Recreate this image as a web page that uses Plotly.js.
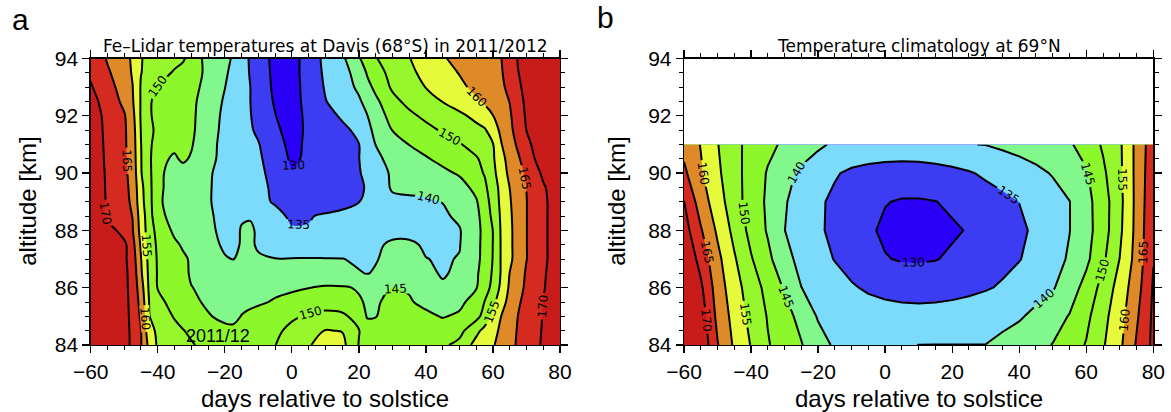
<!DOCTYPE html>
<html><head><meta charset="utf-8">
<script src="https://cdn.plot.ly/plotly-3.0.1.min.js"></script>
<style>html,body{margin:0;padding:0;background:#fff}#chart{width:1171px;height:412px}</style>
</head><body><div id="chart"></div>
<script>
// ---------- Panel a: Fe-Lidar Davis 2011/2012 ----------
const daysA = [-60,-57.5,-55,-52.5,-50,-47.5,-45,-42.5,-40,-35,-32.5,-30,-25,-20,-17.5,-15,-12.5,-10,-5,0,5,10,15,20,22.5,25,30,35,40,45,50,55,57.5,60,62.5,65,67.5,70,72.5,75,77.5,80];
const altA = [84,84.5,85,85.5,86,86.5,87,87.5,88,88.5,89,89.5,90,90.5,91,91.5,92,92.5,93,93.5,94];
const tempA = [
[176.4,175,174,173,172,168.9,165.3,158.5,154.3,152.3,151.4,150.4,148.7,148.2,148.2,148.4,148.7,149,149.9,152.5,154.6,157,156.5,149.8,148.7,148.3,149,149.3,149.5,149.2,151.3,156.7,158.2,159.6,161.6,163.7,165.6,167.3,168.9,170.6,172,173],
[176.2,174.8,173.8,172.8,171.8,168.9,165.1,156.8,154,151.5,150.2,149.2,147.5,146.3,146.2,146.5,147,147.6,149,151.2,153.5,155.2,154.8,150.2,147.5,147,148.2,148.4,147.8,146.7,148.5,153.7,156.4,158.6,160.9,163.2,165.4,167,168.7,170.4,171.8,172.8],
[176,174.6,173.6,172.6,171.6,168.7,164.3,155.1,153.1,149.6,148.5,147.5,145.4,143.8,143.5,145.2,146.2,147,148.3,149.3,150.6,151.2,150.8,148.5,144.6,144.8,147.5,146.8,145.7,144.8,145.5,148.5,151.7,156.3,160.1,162.5,165.1,166.8,168.5,170.2,171.6,172.6],
[175.8,174.4,173.4,172.4,171.4,168.6,163.4,154.7,151.3,148.3,147.2,146.1,144.2,143.3,143.1,143.4,143.8,144.3,145.5,146.5,147.8,148.2,147.8,145.5,144.5,144.4,146.4,145.3,144.2,143.4,144.2,146.5,150.1,153.6,158.1,161.6,164.4,166.4,168.3,170.05,171.4,172.4],
[175.6,174.2,173.2,172.2,171.2,168.4,162.3,154,149.8,147.5,146.3,145.1,144.2,143.6,143.4,143.3,143.3,143.5,143.8,144.3,144.9,145.6,145.5,144.6,143.8,143.9,145.1,144.7,141.8,140.6,142,144.8,147.4,151.7,156.1,160.8,163.5,165.8,167.7,169.7,171.2,172.2],
[175.4,174,173,172,171.1,168.3,160.8,153.7,149.6,147.1,145.9,144.6,143.5,142.5,142,142,142,142,142,141.7,141.4,141,140.8,140.2,139.9,140.3,141.5,142,141,139.6,140.8,144.3,147.1,150.6,155.5,160.1,162.85,165.5,167.5,169.5,171,172],
[175.2,173.8,172.8,171.8,171,167.5,160.2,153.3,149.5,147,145.7,144.5,142.4,140.3,139.9,140.8,141.1,140.6,140.1,140.2,140.3,140.2,140.1,139.5,139.4,139.8,141,141.2,140.1,139.6,140.2,143.8,146.5,150.2,155.5,159.1,162,164.9,166.9,169.1,170.9,172],
[175,173.5,172.5,171.6,171.2,166.6,159.3,152.7,149.2,145.8,144.5,143.4,141.4,139.4,138.8,140.4,140.8,139.4,138.2,137,136.6,136.8,137.4,138,138.4,139,141,140.8,139.4,139.5,139.8,143.7,146.4,150.1,155.5,159.1,162,164.9,166.9,169.1,170.9,172],
[174.8,172.4,171.1,170.1,167.7,165.3,158.3,152.3,148.4,144.1,143.3,142.4,140.6,139.3,139.1,140.2,140.8,139.3,137.4,135.4,135.3,136,136.6,137.1,137.5,137.8,138.1,138.5,138.8,139.2,139.7,143.6,146.3,150.1,155.6,159.1,162,164.9,166.9,169.1,170.9,172],
[174.5,171.3,169.3,167.9,166.5,164.9,157.7,152.1,146.2,143.6,142.8,142,140.4,139.2,139.4,139.7,139.6,138.2,136.2,134.3,134.7,135.6,136.2,136.6,136.9,137.2,137.8,138.3,138.8,139.3,140.8,144,146.6,151.3,155.8,159.3,162.1,164.9,166.9,169.1,170.9,172],
[174.2,171.6,169.5,167.9,166.4,164.2,156.7,151.7,145.6,143.5,142.7,141.9,140.3,138.8,138.2,137.4,136.8,136.1,134.6,132,132,132.5,133.5,134.9,135.9,138,139.4,139.5,139.6,140.1,142.5,144.6,147.5,152.2,156.1,159.6,162.3,164.9,166.9,169.1,170.9,172],
[174,171.5,169.4,167.8,166.3,163.7,156.3,151.5,145.8,143.5,142.7,141.9,140.3,138.9,138.2,137.4,136.7,136,134.3,131.2,131.6,132.3,133.2,134.3,135.4,138.4,140.3,140.6,140.8,141.5,143.3,146.2,149,152.7,156.5,160.05,162.5,165.05,167.3,169.5,171.2,172.1],
[173.8,171.4,169.3,167.7,166.1,163.2,155.3,151.2,145.9,143.5,143.5,141.9,140.4,138.9,138.1,137.4,136.6,135.9,133.7,130.3,131.1,132.3,133.5,134.7,136,138,140.6,141.7,142.9,144,145.5,148.6,150.3,153.7,157.5,161.2,163.4,165.8,168.5,170.8,171.7,172.4],
[173.5,171.2,169.1,167.6,166,162.75,155.2,151,146,144.5,145.6,144.6,141.1,138.85,138,137.3,136.5,135.75,132.6,129.3,130.7,132.1,133.5,134.9,136.75,139.1,141.25,142.9,144.6,146.2,147.9,149.5,151.4,154.3,158.6,161.7,164.4,167.2,170.05,171.2,172,172.7],
[173.2,171,169,167.5,165.86,162.4,155.1,150.8,148,145.8,145.5,145.4,141.4,138.8,137.9,137,136.1,135.3,131.3,129.1,130.6,132.1,133.5,134.9,137.55,140.05,142.6,145.1,146.6,148.1,149.6,152,153.4,154.8,159.8,162.9,165.8,169,170.8,171.7,172.4,173],
[172.8,170.8,168.9,167.4,165.8,162.1,154.8,150.7,149.3,147.5,146.6,145.8,142.1,138.8,137.7,136.6,135.6,134.1,130.5,129,130.5,132.2,133.8,136.2,138.8,141.1,145.1,146.9,148.7,150.5,152.1,153.7,154.5,157.2,161.3,163.9,166.9,170.05,171.2,172.1,172.8,173.4],
[172.3,170.5,168.85,167.2,165.5,161.4,154.5,150.3,149.2,147.5,146.7,145.8,142.7,138.9,137.75,136.5,135.25,133.6,130.1,128.8,130.7,133.1,135.7,138.5,139.9,142.2,146.9,149,151,152.5,154,156.2,158,159.9,162.8,164.5,167.1,170.7,171.6,172.4,173.1,173.7],
[171.5,169.85,168,166.1,163.7,160.5,154.6,150.3,149.2,147.6,146.8,145.9,143.1,139.4,138,136.6,135.1,133.3,129.5,128.7,131.1,134.8,137.1,139.4,141.4,143.9,148.6,151.3,153.2,155.1,157.2,159.4,160.6,162.1,163.5,165.1,168.6,170.8,171.8,172.7,173.4,174],
[170.5,168.5,166.7,164.9,162.5,160.1,154.6,151.6,149.6,147.9,147,146.2,143.8,140.1,138.3,136.5,135.1,133.2,129,128.5,131.5,135.4,137.9,140.8,143.5,146.2,150.7,152.9,155.1,157.1,159,161.1,162.1,163.2,164.3,166,169.4,171,172,173,173.6,174.2],
[169.2,167.5,165.6,164,162,159.6,155.1,153.8,152.8,149.3,148.1,146.8,144.1,140.7,138.8,136.8,134.8,132.8,128.8,128.3,132,135.8,138.8,141.3,145.5,148,151.5,153.8,156.5,158.2,160.2,162,162.9,163.8,164.7,166.6,169.9,171.2,172.3,173.2,173.8,174.3],
[168,166.5,164.6,163,161.2,159.5,155.2,154,153.5,152,150.7,148,143.3,141,139.6,137,134.6,132.7,128.5,128,132.3,136.1,139,144.5,147.2,149.7,152.5,154.8,157.5,159.6,161.2,162.8,163.5,164.2,164.95,167.6,170.3,171.5,172.5,173.5,174,174.5]
];

// ---------- Panel b: climatology 69N ----------
const daysB = [-60,-55,-50,-45,-40,-35,-30,-25,-20,-15,-10,-5,0,5,10,15,20,25,30,35,40,45,50,55,60,65,70,75,80];
const altB = [84,85,86,87,88,89,90,91];
const tempB = [
[177.5,174,165.3,159.3,154.75,150.35,147.8,145.3,141.8,139.4,139.2,139.3,139.5,139.7,140.03,140.05,140.05,140.05,140.05,141,142.3,143.7,145.15,147.7,150.3,154.5,159,165.5,171.1],
[176.5,173,163.7,158.3,153.5,149.7,146.9,143.4,139.6,138.8,138.2,137.2,136.7,136.5,136.4,136.5,136.7,137.1,138.2,138.8,139.5,141.1,143.1,145.25,148.8,153.5,158.1,164.3,170.9],
[175.5,170.9,162.6,157.1,152.5,148.5,144.5,140.05,138.5,137,135.45,134.4,133.8,133.4,133.3,133.4,133.7,134.1,134.6,135.5,136.9,138.2,139.6,142.6,146.7,151.7,157,162.9,170.5],
[174.5,168.3,161.35,155.55,150.4,146.2,141.5,138.65,136.7,134.8,133.3,131.8,130.25,129.6,129.5,129.8,130.7,131.7,132.7,133.8,134.8,136.5,138.4,140.5,143.9,149.1,155.1,161.8,169.8],
[172.2,165.5,159.2,153.6,148.5,144.5,140.05,137.8,135.7,133.9,132.3,130.7,129.2,128.8,128.6,128.8,129.4,130.3,131.6,132.9,134.2,135.75,137.8,139.9,143.2,147.8,154,161.4,169.5],
[170.1,162.6,157.25,152.1,147.8,144.2,140.4,138,135.7,134.1,132.8,131.5,130.2,129.6,129.6,129.9,130.8,131.8,132.9,133.9,135.05,136.6,138.3,139.9,143.4,147.8,153.6,161.3,169],
[166,160.6,155.9,151.7,148,144.6,141.5,139.1,137.2,135.4,134.2,133.6,133.2,133,133,133.3,133.8,134.6,135.75,136.85,137.9,139,140.3,142.4,144.5,149.1,154,161.3,168.5],
[163.5,159.8,155.2,151.3,148.5,146.2,144.2,142.5,140.8,139.3,138.5,138,137.8,137.8,138,138.5,139.2,139.9,140.1,140.8,141.5,142.3,143,144.4,147.1,150.6,154.2,161.3,168]
];

// contour levels 130..170 every 5 K; one colour per band (<130 ... >170)
const bandColors = ['#2a00f6','#3c3cf2','#7cdafa','#82f88c','#8cf82c','#96f82c','#e6fa3c','#de8a28','#d42a20','#c81c1a'];
const xTicks = [-60,-40,-20,0,20,40,60,80];
const yTicks = [84,86,88,90,92,94];

const colorscale = bandColors.map((c,i)=>[i/(bandColors.length-1), c]);
const contoursCfg = {start:130, end:170, size:5, coloring:'fill', showlabels:true,
  labelfont:{family:'DejaVu Sans', size:12, color:'#000'}};

const trA = {type:'contour', x:daysA, y:altA, z:tempA, xaxis:'x', yaxis:'y',
  autocontour:false, contours:contoursCfg, colorscale:colorscale, showscale:false,
  line:{color:'#000', width:2, smoothing:1}, hoverinfo:'skip'};
const trB = {type:'contour', x:daysB, y:altB, z:tempB, xaxis:'x2', yaxis:'y2',
  autocontour:false, contours:contoursCfg, colorscale:colorscale, showscale:false,
  line:{color:'#000', width:2, smoothing:0}, hoverinfo:'skip'};

const W = 1171, H = 412;
const tickFont = {family:'Liberation Sans, Arial, sans-serif', size:21, color:'#000'};
function xAx(dom, anchor){
  return {domain:dom, anchor:anchor, range:[-60,80], tickvals:xTicks, ticks:'outside', ticklen:7, tickwidth:1.3,
    minor:{dtick:5, tick0:-60, ticks:'outside', ticklen:4, tickwidth:1, tickcolor:'#000'},
    showline:true, mirror:'ticks', linecolor:'#000', linewidth:1.3, tickcolor:'#000',
    tickfont:tickFont, showgrid:false, zeroline:false};
}
function yAx(dom, anchor){
  return {domain:dom, anchor:anchor, range:[84,94], tickvals:yTicks, ticks:'outside', ticklen:7, tickwidth:1.3,
    minor:{dtick:0.5, tick0:84, ticks:'outside', ticklen:4, tickwidth:1, tickcolor:'#000'},
    showline:true, mirror:'ticks', linecolor:'#000', linewidth:1.3, tickcolor:'#000',
    tickfont:tickFont, showgrid:false, zeroline:false};
}
const yDom = [(H-345)/H, (H-58.5)/H];
const axA = [90.7/W, 560/W], axB = [684/W, 1153.3/W];
const cA = (axA[0]+axA[1])/2, cB = (axB[0]+axB[1])/2;
const titleFont = {family:'DejaVu Sans, sans-serif', size:17, color:'#000'};
const labFont = {family:'Liberation Sans, Arial, sans-serif', size:24, color:'#000'};
function ann(text, x, y, font, extra){
  return Object.assign({text:text, xref:'paper', yref:'paper', x:x, y:y, xanchor:'center', yanchor:'middle',
    showarrow:false, font:font}, extra||{});
}

const layout = {
  width:W, height:H, margin:{l:0,r:0,t:0,b:0}, paper_bgcolor:'#fff', plot_bgcolor:'#fff',
  showlegend:false,
  xaxis:xAx(axA,'y'), yaxis:yAx(yDom,'x'),
  xaxis2:xAx(axB,'y2'), yaxis2:yAx(yDom,'x2'),
  annotations:[
    ann('a', 20/W, (H-20)/H, {family:'Liberation Sans, Arial', size:30, color:'#000'}),
    ann('b', 605/W, (H-18)/H, {family:'Liberation Sans, Arial', size:30, color:'#000'}),
    ann('Fe\u2013Lidar temperatures at Davis (68°S) in 2011/2012', cA, (H-46)/H, titleFont),
    ann('Temperature climatology at 69°N', cB, (H-46)/H, titleFont),
    ann('days relative to solstice', cA, (H-398)/H, labFont),
    ann('days relative to solstice', cB, (H-398)/H, labFont),
    ann('altitude [km]', 28/W, (H-201.75)/H, labFont, {textangle:-90}),
    ann('altitude [km]', 617/W, (H-201.75)/H, labFont, {textangle:-90}),
    {text:'2011/12', xref:'x', yref:'y', x:-22, y:84.32, xanchor:'center', yanchor:'middle', showarrow:false,
     font:{family:'Liberation Sans, Arial', size:18, color:'#000'}}
  ]
};
Plotly.newPlot('chart', [trA, trB], layout, {staticPlot:true, displayModeBar:false});
</script></body></html>
